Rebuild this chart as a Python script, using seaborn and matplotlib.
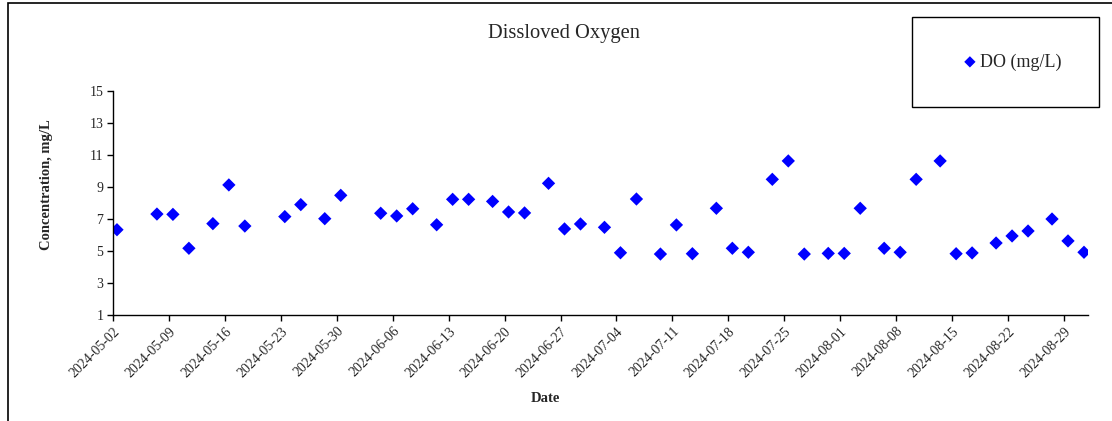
import numpy as np
import pandas as pd
import seaborn as sns
import matplotlib.pyplot as plt
import matplotlib.dates as mdates
from matplotlib.patches import Rectangle

# DO readings
dates = ["2024-05-02", "2024-05-07", "2024-05-09", "2024-05-11", "2024-05-14",
         "2024-05-16", "2024-05-18", "2024-05-23", "2024-05-25", "2024-05-28",
         "2024-05-30", "2024-06-04", "2024-06-06", "2024-06-08", "2024-06-11",
         "2024-06-13", "2024-06-15", "2024-06-18", "2024-06-20", "2024-06-22",
         "2024-06-25", "2024-06-27", "2024-06-29", "2024-07-02", "2024-07-04",
         "2024-07-06", "2024-07-09", "2024-07-11", "2024-07-13", "2024-07-16",
         "2024-07-18", "2024-07-20", "2024-07-23", "2024-07-25", "2024-07-27",
         "2024-07-30", "2024-08-01", "2024-08-03", "2024-08-06", "2024-08-08",
         "2024-08-10", "2024-08-13", "2024-08-15", "2024-08-17", "2024-08-20",
         "2024-08-22", "2024-08-24", "2024-08-27", "2024-08-29", "2024-08-31"]
do_values = [6.33, 7.31, 7.29, 5.17, 6.71, 9.13, 6.56, 7.15, 7.90, 7.02,
             8.48, 7.36, 7.19, 7.64, 6.64, 8.23, 8.23, 8.10, 7.44, 7.38,
             9.23, 6.38, 6.69, 6.48, 4.89, 8.25, 4.81, 6.63, 4.83, 7.67,
             5.17, 4.92, 9.48, 10.63, 4.81, 4.85, 4.85, 7.67, 5.17, 4.92,
             9.48, 10.63, 4.83, 4.88, 5.50, 5.94, 6.25, 7.00, 5.63, 4.92]
tick_dates = pd.date_range("2024-05-02", "2024-08-29", freq="7D")

dt = pd.DataFrame({"Date": pd.to_datetime(dates), "DO (mg/L)": do_values})
# points sit in the middle of their day, like the date axis in the original
dt["x"] = dt["Date"] + pd.Timedelta(hours=12)

sns.set_style("ticks")
plt.rcParams["font.family"] = ["Liberation Serif", "DejaVu Serif"]

fig = plt.figure(figsize=(11.12, 4.21), dpi=100)
ax = fig.add_axes([0.1016, 0.2518, 0.8768, 0.532])

sns.scatterplot(data=dt, x="x", y="DO (mg/L)", marker="D", color="#0000FF",
                edgecolor="none", s=46, label="DO (mg/L)", ax=ax)

ax.set_xlim(pd.Timestamp("2024-05-02"), pd.Timestamp("2024-09-01"))
ax.set_ylim(1, 15)
ax.set_yticks(np.arange(1, 16, 2))
ax.set_xticks(tick_dates)
ax.xaxis.set_major_formatter(mdates.DateFormatter("%Y-%m-%d"))
plt.setp(ax.get_xticklabels(), rotation=45, ha="right", rotation_mode="anchor")
ax.tick_params(axis="both", labelsize=10, color="black", length=4, width=1,
               direction="out", pad=3)
for s in ["left", "bottom"]:
    ax.spines[s].set_color("black")
    ax.spines[s].set_linewidth(1)
sns.despine(ax=ax)

ax.set_xlabel("Date", fontsize=10.5, fontweight="bold")
ax.xaxis.set_label_coords(0.444, -0.345)
ax.set_ylabel("Concentration, mg/L", fontsize=10.5, fontweight="bold")
ax.yaxis.set_label_coords(-0.062, 0.58)

fig.text(0.507, 0.92, "Dissloved Oxygen", ha="center", va="center", fontsize=14.8)

# legend box
fig.patches.append(Rectangle((912 / 1112, 1 - 107 / 421), 187 / 1112, 90 / 421,
                             transform=fig.transFigure, fill=False,
                             edgecolor="black", linewidth=1))
ax.legend(loc="center", bbox_to_anchor=(1012 / 1112, 1 - 62 / 421),
          bbox_transform=fig.transFigure, frameon=False, fontsize=13,
          handlelength=0.8, handletextpad=0.15, markerscale=0.85,
          borderaxespad=0)

# outer chart border
fig.patches.append(Rectangle((8 / 1112, -0.05), 1.1, 1.05 - 3 / 421,
                             transform=fig.transFigure, fill=False,
                             edgecolor="black", linewidth=1.2))

fig.savefig("out.png", dpi=100)
